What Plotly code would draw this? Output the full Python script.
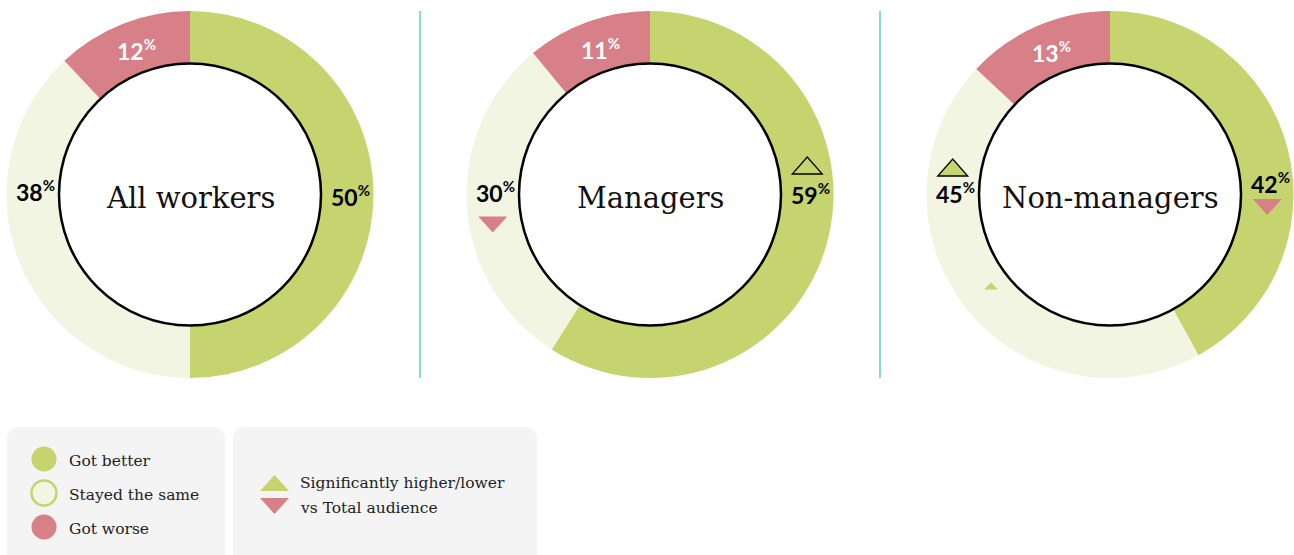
import math
import plotly.graph_objects as go

# ---------------- data ----------------
groups = ["All workers", "Managers", "Non-managers"]
categories = ["Got better", "Stayed the same", "Got worse"]
got_better = [50, 59, 42]
stayed_same = [38, 30, 45]
got_worse = [12, 11, 13]
# significance vs total audience: 1 = higher, -1 = lower, 0 = none
sig_better = [0, 1, -1]
sig_same = [0, -1, 1]
sig_worse = [0, 0, 0]
legend_sig_lines = ["Significantly higher/lower", "vs Total audience"]

# ---------------- style ----------------
W, H = 1294, 555
GREEN = "#c5d46f"
PALE = "#f2f5e2"
RED = "#d88088"
colors = [GREEN, PALE, RED]
centers_x = [190, 650, 1110]
CY = 194.5
R_OUT = 183.5
R_IN = 131.0
R_MID = (R_OUT + R_IN) / 2
divider_x = [420, 880]
TEAL = "#4fc3b6"
SERIF = "DejaVu Serif"
SANS = "Lato"
# per-chart vertical offsets of side labels (relative to ring centre) and of markers (relative to label)
better_label_dy = [1, -1, -12]
same_label_dy = [-4, -3, -2]
better_marker_dy = [0, -28, 24.5]
same_marker_dy = [0, 33, -25]

fig = go.Figure()
# invisible trace to create a pixel-mapped cartesian space
fig.add_trace(go.Scatter(x=[0, W], y=[0, H], mode="markers", marker=dict(opacity=0),
                         hoverinfo="skip", showlegend=False))

shapes = []
annotations = []


def tri(cx, cy, w, h, up, fill, line_color=None, lw=0):
    if up:
        path = f"M {cx - w/2},{cy + h/2} L {cx + w/2},{cy + h/2} L {cx},{cy - h/2} Z"
    else:
        path = f"M {cx - w/2},{cy - h/2} L {cx + w/2},{cy - h/2} L {cx},{cy + h/2} Z"
    return dict(type="path", path=path, xref="x", yref="y", fillcolor=fill,
                line=dict(color=line_color or fill, width=lw), layer="above")


def pct_text(v):
    return f"<b>{v}<sup><span style='font-size:15px'>%</span></sup></b>"


for i, g in enumerate(groups):
    cx = centers_x[i]
    vals = [got_better[i], stayed_same[i], got_worse[i]]
    fig.add_trace(go.Pie(
        values=vals, labels=categories, sort=False, direction="clockwise", rotation=0,
        hole=R_IN / R_OUT, marker=dict(colors=colors, line=dict(width=0)),
        textinfo="none", hoverinfo="skip", showlegend=False,
        domain=dict(x=[(cx - R_OUT) / W, (cx + R_OUT) / W],
                    y=[1 - (CY + R_OUT) / H, 1 - (CY - R_OUT) / H]),
    ))
    # inner white circle with black ring
    shapes.append(dict(type="circle", xref="x", yref="y",
                       x0=cx - R_IN, x1=cx + R_IN, y0=CY - R_IN, y1=CY + R_IN,
                       fillcolor="white", line=dict(color="black", width=2.5), layer="above"))
    annotations.append(dict(x=cx, y=CY + 3, xref="x", yref="y", text=g, showarrow=False,
                            font=dict(family=SERIF, size=29, color="#111111")))

    total = sum(vals)
    # got better -> right side, stayed the same -> left side
    for side, v, s, ldy, mdy in [(1, got_better[i], sig_better[i], better_label_dy[i], better_marker_dy[i]),
                                 (-1, stayed_same[i], sig_same[i], same_label_dy[i], same_marker_dy[i])]:
        mx = cx + side * R_MID
        ly = CY + ldy
        if s == 1:
            shapes.append(tri(mx, ly + mdy, 30, 17, True, GREEN, "black", 1.3))
        elif s == -1:
            shapes.append(tri(mx, ly + mdy, 29, 16, False, RED))
        annotations.append(dict(x=mx + 3, y=ly, xref="x", yref="y", text=pct_text(v),
                                showarrow=False, font=dict(family=SANS, size=23, color="black")))
    # got worse: at slice midpoint
    start = (got_better[i] + stayed_same[i]) / total * 360
    mid = math.radians(start + got_worse[i] / total * 180)
    wx = cx + R_MID * math.sin(mid)
    wy = CY - R_MID * math.cos(mid)
    annotations.append(dict(x=wx + 4, y=wy + 2, xref="x", yref="y", text=pct_text(got_worse[i]),
                            showarrow=False, font=dict(family=SANS, size=23, color="white")))

# small decorative marker in the non-managers ring
shapes.append(tri(991, 286, 14, 7, True, GREEN))

# dividers
for dx in divider_x:
    shapes.append(dict(type="line", xref="x", yref="y", x0=dx, x1=dx, y0=11, y1=378,
                       line=dict(color=TEAL, width=1.3), layer="above"))


def rrect(x0, y0, x1, y1, r):
    return (f"M {x0 + r},{y0} L {x1 - r},{y0} Q {x1},{y0} {x1},{y0 + r} "
            f"L {x1},{y1 - r} Q {x1},{y1} {x1 - r},{y1} L {x0 + r},{y1} "
            f"Q {x0},{y1} {x0},{y1 - r} L {x0},{y0 + r} Q {x0},{y0} {x0 + r},{y0} Z")


for (x0, x1) in [(7, 225), (233, 537)]:
    shapes.append(dict(type="path", path=rrect(x0, 427, x1, 568, 13), xref="x", yref="y",
                       fillcolor="#f4f4f4", line=dict(width=0), layer="above"))

# legend entries
leg_y = [459, 493, 527]
for k, cat in enumerate(categories):
    lw = 2.5 if k == 1 else 0
    shapes.append(dict(type="circle", xref="x", yref="y", x0=44 - 12.5, x1=44 + 12.5,
                       y0=leg_y[k] - 12.5, y1=leg_y[k] + 12.5, fillcolor=colors[k],
                       line=dict(color=GREEN, width=lw), layer="above"))
    annotations.append(dict(x=67, y=leg_y[k] + 2, xref="x", yref="y", text=cat, xanchor="left",
                            showarrow=False, font=dict(family=SERIF, size=15.5, color="#222222")))

shapes.append(tri(274.5, 483, 29, 16, True, GREEN))
shapes.append(tri(274.5, 506, 29, 16, False, RED))
for j, line in enumerate(legend_sig_lines):
    annotations.append(dict(x=298, y=483 + 25 * j, xref="x", yref="y", text=line, xanchor="left",
                            showarrow=False, font=dict(family=SERIF, size=15.5, color="#222222")))

fig.update_layout(
    width=W, height=H, margin=dict(l=0, r=0, t=0, b=0),
    paper_bgcolor="white", plot_bgcolor="white",
    xaxis=dict(range=[0, W], visible=False, fixedrange=True, domain=[0, 1]),
    yaxis=dict(range=[H, 0], visible=False, fixedrange=True, domain=[0, 1]),
    shapes=shapes, annotations=annotations, showlegend=False,
)

fig.write_html("out.html", config={"displayModeBar": False},
               post_script="document.body.style.margin='0';document.body.style.overflow='hidden';")
